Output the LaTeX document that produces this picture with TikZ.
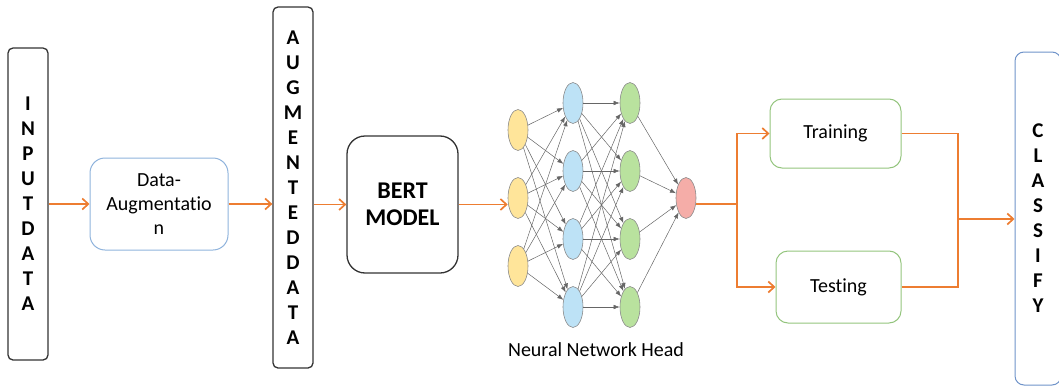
\documentclass[tikz,border=0pt]{standalone}
\usepackage{fontspec}
\setmainfont{Carlito}[Ligatures=CommonOff]
\usetikzlibrary{arrows.meta,shapes.geometric}

\definecolor{flowcol}{HTML}{ED7D31}
\definecolor{augblue}{HTML}{8FB3DC}
\definecolor{clsblue}{HTML}{6F93C9}
\definecolor{boxgreen}{HTML}{93C47D}
\definecolor{inyellow}{HTML}{FFE59A}
\definecolor{hidblue}{HTML}{BDE2F6}
\definecolor{hidgreen}{HTML}{B9E29E}
\definecolor{outred}{HTML}{F5ADA8}

\tikzset{
  tallbox/.style={draw=black!80, line width=1.3pt, rounded corners=5pt, inner sep=0pt,
    align=center, font=\fontsize{21}{25}\selectfont\bfseries},
  softbox/.style={line width=1pt, inner sep=0pt, align=center,
    font=\fontsize{20}{24}\selectfont},
  flowline/.style={draw=flowcol, line width=1.7pt},
  flow/.style={flowline, -{Straight Barb[length=6pt,width=11pt]}},
  neuron/.style={ellipse, draw=black!45, line width=0.6pt, minimum width=20pt,
    minimum height=41pt, inner sep=0pt},
  link/.style={draw=black!60, line width=0.5pt, -{Latex[length=6pt,width=4.5pt]}}
}

\begin{document}
\begin{tikzpicture}[x=1pt,y=-1pt]
\useasboundingbox (0,0) rectangle (1059,388);

% Input and augmentation
\node[tallbox, minimum width=40pt, minimum height=312pt] (input) at (28,204)
  {I\\N\\P\\U\\T\\D\\A\\T\\A};
\node[softbox, draw=augblue, rounded corners=15pt, minimum width=138pt, minimum height=92pt]
  (dataaug) at (159,204) {Data-\\Augmentatio\\n};
\node[tallbox, minimum width=40pt, minimum height=361pt] (augdata) at (293,187.5)
  {A\\U\\G\\M\\E\\N\\T\\E\\D\\D\\A\\T\\A};

% BERT
\node[tallbox, rounded corners=18pt, minimum width=111pt, minimum height=137pt,
  font=\fontsize{24}{27}\selectfont\bfseries] (bert) at (402.5,204.5) {BERT\\MODEL};

% Neural network head
\node[neuron, fill=inyellow] (y1) at (518,130) {};
\node[neuron, fill=inyellow] (y2) at (518,198) {};
\node[neuron, fill=inyellow] (y3) at (518,266) {};
\node[neuron, fill=hidblue] (b1) at (573,103) {};
\node[neuron, fill=hidblue] (b2) at (573,171) {};
\node[neuron, fill=hidblue] (b3) at (573,239) {};
\node[neuron, fill=hidblue] (b4) at (573,307) {};
\node[neuron, fill=hidgreen] (g1) at (630,103) {};
\node[neuron, fill=hidgreen] (g2) at (630,171) {};
\node[neuron, fill=hidgreen] (g3) at (630,239) {};
\node[neuron, fill=hidgreen] (g4) at (630,307) {};
\node[neuron, fill=outred] (r) at (686,198) {};
\foreach \i in {1,2,3}
  \foreach \j in {1,2,3,4}
    \draw[link] (y\i) -- (b\j);
\foreach \i in {1,2,3,4}
  \foreach \j in {1,2,3,4}
    \draw[link] (b\i) -- (g\j);
\foreach \i in {1,2,3,4}
  \draw[link] (g\i) -- (r);
\node[font=\fontsize{20}{24}\selectfont] (nnlabel) at (596,350) {Neural Network Head};

% Training / testing
\node[softbox, draw=boxgreen, rounded corners=12pt, minimum width=131pt, minimum height=69pt]
  (train) at (835.5,133.5) {Training};
\node[softbox, draw=boxgreen, rounded corners=12pt, minimum width=125pt, minimum height=72pt]
  (test) at (838.5,287) {Testing};
\node[tallbox, draw=clsblue, line width=1pt, rounded corners=9pt, minimum width=46pt,
  minimum height=333pt] (classify) at (1038,218.5) {C\\L\\A\\S\\S\\I\\F\\Y};

% Orange connectors
\coordinate (split) at (737,204);
\coordinate (merge) at (958,219);
\draw[flow] (input.east) -- (dataaug.west);
\draw[flow] (dataaug.east) -- (dataaug.east -| augdata.west);
\draw[flow] (bert.west -| augdata.east) -- (bert.west);
\draw[flow] (bert.east) -- (bert.east -| y2.west);
\draw[flowline] (r.east |- split) -- (split);
\draw[flow] (split) |- (train.west);
\draw[flow] (split) |- (test.west);
\draw[flowline] (train.east) -| (merge);
\draw[flowline] (test.east) -| (merge);
\draw[flow] (merge) -- (merge -| classify.west);
\end{tikzpicture}
\end{document}
